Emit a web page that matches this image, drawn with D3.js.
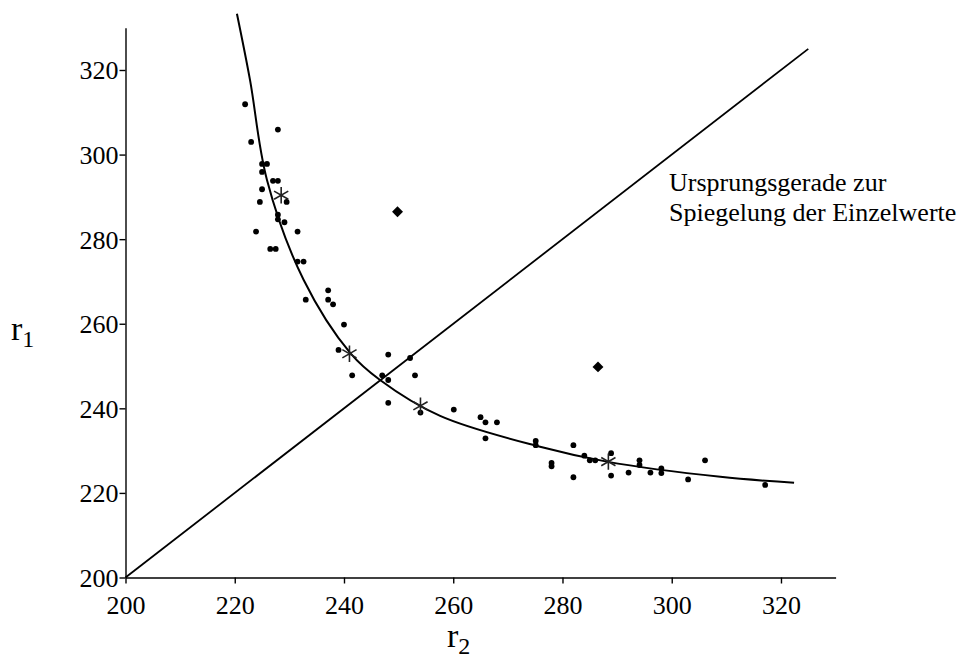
<!DOCTYPE html>
<html>
<head>
<meta charset="utf-8">
<script src="https://cdn.jsdelivr.net/npm/d3@7"></script>
<style>
  html, body { margin: 0; padding: 0; background: #fff; }
  svg { display: block; font-family: "Liberation Serif", "Times New Roman", serif; }
</style>
</head>
<body>
<svg id="chart" width="965" height="662"></svg>
<script>
// Individual measurements (r2 on the horizontal axis, r1 on the vertical axis)
const pointR2 = [221.9, 227.9, 223.0, 225.0, 225.9, 225.0, 227.0, 227.9, 225.0, 224.6,
                 229.5, 227.9, 227.9, 229.1, 223.9, 231.5, 226.5, 227.5, 231.5, 232.6,
                 237.1, 233.0, 237.1, 238.0, 240.0, 239.0, 248.1, 252.1, 241.5, 247.0,
                 248.1, 253.0, 248.1, 254.0, 260.1, 265.0, 265.9, 268.0, 265.9, 275.1,
                 275.1, 282.0, 278.0, 278.0, 284.0, 285.0, 286.0, 288.9, 288.9, 282.0,
                 292.1, 294.1, 294.1, 296.1, 298.1, 298.1, 303.0, 306.1, 317.1];
const pointR1 = [311.9, 305.9, 303.0, 297.8, 297.8, 295.9, 293.8, 293.8, 291.8, 288.8,
                 288.8, 285.8, 284.7, 284.0, 281.8, 281.8, 277.7, 277.7, 274.7, 274.7,
                 267.9, 265.7, 265.7, 264.6, 259.8, 253.8, 252.7, 251.9, 247.8, 247.8,
                 246.7, 247.8, 241.3, 239.0, 239.7, 237.9, 236.7, 236.7, 232.9, 232.3,
                 231.3, 231.3, 227.1, 226.3, 228.8, 227.7, 227.7, 229.4, 224.1, 223.7,
                 224.8, 227.7, 226.6, 224.8, 225.8, 224.7, 223.2, 227.7, 221.9];

// Group means (asterisks)
const meanR2 = [228.5, 241.0, 254.0, 288.4];
const meanR1 = [290.4, 252.9, 240.6, 227.4];

// Mirrored single values (diamonds)
const mirrorR2 = [249.8, 286.5];
const mirrorR1 = [286.5, 249.8];

// Fitted curve, sampled along its course
const curveR2 = [220.4, 222.8, 225.9, 232.6, 241.2, 246.6, 257.6, 275.9, 288.1, 308.9, 322.4];
const curveR1 = [333.3, 317.6, 294.0, 270.4, 253.0, 246.7, 238.2, 230.9, 227.4, 223.8, 222.4];

// Line through the origin (r1 = r2)
const diagR2 = [200, 325];
const diagR1 = [200, 325];

// Axis ticks
const ticksR2 = [200, 220, 240, 260, 280, 300, 320];
const ticksR1 = [200, 220, 240, 260, 280, 300, 320];

const noteLines = ["Ursprungsgerade zur", "Spiegelung der Einzelwerte"];

const svg = d3.select("#chart");

const x = d3.scaleLinear().domain([200, 330]).range([125.5, 835.6]);
const y = d3.scaleLinear().domain([200, 330]).range([577.5, 27.7]);

// Axes
const xAxis = d3.axisBottom(x).tickValues(ticksR2).tickSize(6).tickSizeOuter(0).tickFormat(d3.format("d"));
const yAxis = d3.axisLeft(y).tickValues(ticksR1).tickSize(6).tickSizeOuter(0).tickFormat(d3.format("d"));

const gx = svg.append("g").attr("transform", `translate(0,${y(200)})`).call(xAxis);
const gy = svg.append("g").attr("transform", `translate(${x(200)},0)`).call(yAxis);

[gx, gy].forEach(g => {
  g.select(".domain").attr("stroke", "#000").attr("stroke-width", 1.4);
  g.selectAll(".tick line").attr("stroke", "#000").attr("stroke-width", 1.4);
  g.selectAll(".tick text")
    .attr("fill", "#000")
    .style("font-family", '"Liberation Serif", "Times New Roman", serif')
    .style("font-size", "26px");
});
gx.selectAll(".tick text").attr("dy", "0.95em").attr("y", 12);
gy.selectAll(".tick text").attr("x", -7).attr("dy", "0.34em");

// Axis titles
const xTitle = svg.append("text")
  .attr("x", 447).attr("y", 647)
  .style("font-size", "34px").attr("fill", "#000");
xTitle.append("tspan").text("r");
xTitle.append("tspan").attr("dy", 7).style("font-size", "24px").text("2");

const yTitle = svg.append("text")
  .attr("x", 11).attr("y", 340)
  .style("font-size", "34px").attr("fill", "#000");
yTitle.append("tspan").text("r");
yTitle.append("tspan").attr("dy", 7).style("font-size", "24px").text("1");

// Diagonal line
svg.append("line")
  .attr("x1", x(diagR2[0])).attr("y1", y(diagR1[0]))
  .attr("x2", x(diagR2[1])).attr("y2", y(diagR1[1]))
  .attr("stroke", "#000").attr("stroke-width", 1.8);

// Fitted curve
const curveData = curveR2.map((v, i) => [v, curveR1[i]]);
svg.append("path")
  .datum(curveData)
  .attr("d", d3.line().x(d => x(d[0])).y(d => y(d[1])).curve(d3.curveCatmullRom.alpha(0.5)))
  .attr("fill", "none").attr("stroke", "#000").attr("stroke-width", 2);

// Individual values
svg.append("g").selectAll("circle")
  .data(pointR2.map((v, i) => [v, pointR1[i]]))
  .join("circle")
  .attr("cx", d => x(d[0])).attr("cy", d => y(d[1]))
  .attr("r", 2.9).attr("fill", "#000");

// Means
const star = d3.symbol().type(d3.symbolAsterisk).size(190);
svg.append("g").selectAll("path")
  .data(meanR2.map((v, i) => [v, meanR1[i]]))
  .join("path")
  .attr("transform", d => `translate(${x(d[0])},${y(d[1])})`)
  .attr("d", star)
  .attr("fill", "none").attr("stroke", "#222").attr("stroke-width", 1.6);

// Mirrored values
const diamond = d3.symbol().type(d3.symbolSquare).size(60);
svg.append("g").selectAll("path")
  .data(mirrorR2.map((v, i) => [v, mirrorR1[i]]))
  .join("path")
  .attr("transform", d => `translate(${x(d[0])},${y(d[1])}) rotate(45)`)
  .attr("d", diamond)
  .attr("fill", "#000");

// Annotation
svg.append("text")
  .attr("x", 669).attr("y", 191)
  .style("font-size", "26px").attr("fill", "#000")
  .selectAll("tspan")
  .data(noteLines)
  .join("tspan")
  .attr("x", 669)
  .attr("dy", (d, i) => i === 0 ? 0 : 30)
  .text(d => d);
</script>
</body>
</html>
